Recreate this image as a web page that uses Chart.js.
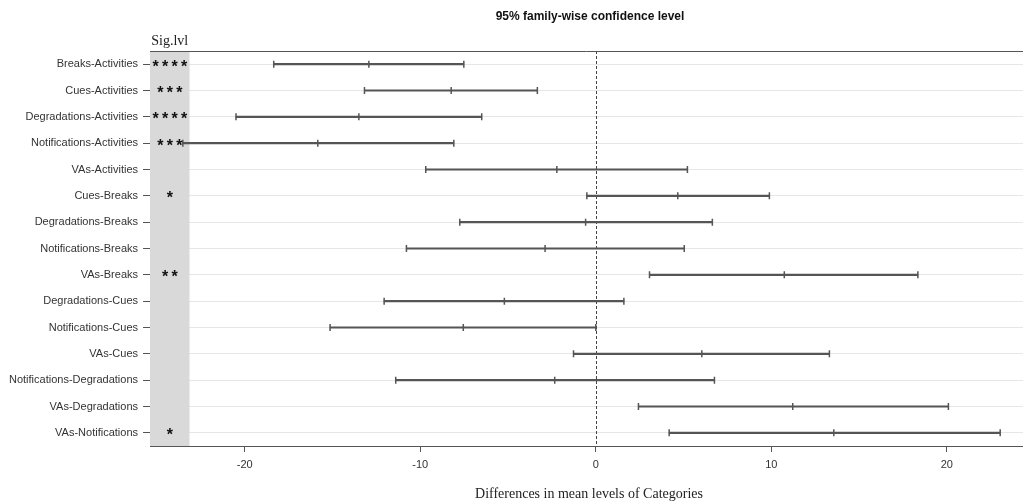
<!DOCTYPE html>
<html>
<head>
<meta charset="utf-8">
<script src="https://cdn.jsdelivr.net/npm/chart.js@4.4.1/dist/chart.umd.min.js"></script>
<style>
  html, body { margin: 0; padding: 0; background: #fff; }
  #wrap { width: 1023px; height: 504px; }
</style>
</head>
<body>
<div id="wrap"><canvas id="tukeyChart" width="1023" height="504"></canvas></div>
<script>
// pairwise comparisons, top to bottom
const comparisons = [
  'Breaks-Activities', 'Cues-Activities', 'Degradations-Activities', 'Notifications-Activities',
  'VAs-Activities', 'Cues-Breaks', 'Degradations-Breaks', 'Notifications-Breaks', 'VAs-Breaks',
  'Degradations-Cues', 'Notifications-Cues', 'VAs-Cues', 'Notifications-Degradations',
  'VAs-Degradations', 'VAs-Notifications'
];
const diffMean = [-12.93, -8.24, -13.5, -15.84, -2.22, 4.67, -0.58, -2.89, 10.74, -5.21, -7.55, 6.04, -2.34, 11.22, 13.56];
const lowerCI  = [-18.35, -13.18, -20.5, -23.53, -9.69, -0.51, -7.75, -10.79, 3.06, -12.06, -15.14, -1.27, -11.4, 2.43, 4.18];
const upperCI  = [-7.52, -3.33, -6.5, -8.09, 5.22, 9.89, 6.64, 5.04, 18.35, 1.6, 0.0, 13.31, 6.76, 20.09, 23.04];
const sigLevels = ['****', '***', '****', '***', '', '*', '', '', '**', '', '', '', '', '', '*'];
const xTicks = [-20, -10, 0, 10, 20];

const xMin = -25.4;
const xMax = 24.34;
const sigBandEnd = -23.15;
const barColor = '#555555';

const ranges = comparisons.map((c, i) => [lowerCI[i], upperCI[i]]);
const endPoints = [];
comparisons.forEach((c, i) => {
  endPoints.push({ x: lowerCI[i], y: c });
  endPoints.push({ x: diffMean[i], y: c });
  endPoints.push({ x: upperCI[i], y: c });
});

const decorPlugin = {
  id: 'decor',
  beforeDatasetsDraw(chart) {
    const { ctx, chartArea, scales } = chart;
    const bandRight = scales.x.getPixelForValue(sigBandEnd);
    ctx.save();
    ctx.fillStyle = '#d9d9d9';
    ctx.fillRect(chartArea.left, chartArea.top, bandRight - chartArea.left, chartArea.bottom - chartArea.top);

    // dashed zero line
    const x0 = Math.round(scales.x.getPixelForValue(0)) + 0.5;
    ctx.strokeStyle = '#444';
    ctx.lineWidth = 1;
    ctx.setLineDash([3, 2]);
    ctx.beginPath();
    ctx.moveTo(x0, chartArea.top);
    ctx.lineTo(x0, chartArea.bottom);
    ctx.stroke();
    ctx.restore();
  },
  afterDraw(chart) {
    const { ctx, chartArea, scales } = chart;
    const bandCenter = (chartArea.left + scales.x.getPixelForValue(sigBandEnd)) / 2;
    ctx.save();

    // top frame line
    ctx.strokeStyle = '#555';
    ctx.lineWidth = 1;
    ctx.beginPath();
    ctx.moveTo(chartArea.left, Math.round(chartArea.top) + 0.5);
    ctx.lineTo(chartArea.right, Math.round(chartArea.top) + 0.5);
    ctx.stroke();

    // significance stars
    ctx.fillStyle = '#111';
    ctx.font = 'bold 16px "Liberation Sans", Arial, sans-serif';
    ctx.textAlign = 'center';
    ctx.textBaseline = 'middle';
    const pitch = 9.5;
    sigLevels.forEach((s, i) => {
      if (!s) return;
      const y = scales.y.getPixelForValue(i) + 3;
      const start = bandCenter - (s.length - 1) * pitch / 2;
      for (let k = 0; k < s.length; k++) {
        ctx.fillText('*', start + k * pitch, y);
      }
    });

    // texts
    ctx.fillStyle = '#222';
    ctx.font = '14px "Liberation Serif", "Times New Roman", serif';
    ctx.fillText('Sig.lvl', bandCenter, 41);

    ctx.fillStyle = '#111';
    ctx.font = 'bold 12px "Liberation Sans", Arial, sans-serif';
    ctx.fillText('95% family-wise confidence level', 590, 17);

    ctx.fillStyle = '#222';
    ctx.font = '14px "Liberation Serif", "Times New Roman", serif';
    ctx.fillText('Differences in mean levels of Categories', 589, 494);
    ctx.restore();
  }
};

new Chart(document.getElementById('tukeyChart'), {
  type: 'bar',
  data: {
    labels: comparisons,
    datasets: [
      {
        type: 'bar',
        data: ranges,
        backgroundColor: barColor,
        borderWidth: 0,
        barThickness: 1.5,
        order: 2
      },
      {
        type: 'scatter',
        data: endPoints,
        pointStyle: 'line',
        rotation: 90,
        radius: 3.5,
        borderWidth: 1.5,
        borderColor: barColor,
        backgroundColor: barColor,
        order: 1
      }
    ]
  },
  options: {
    indexAxis: 'y',
    responsive: false,
    animation: false,
    events: [],
    layout: { autoPadding: false, padding: { top: 51, right: 0, bottom: 0, left: 0 } },
    plugins: {
      legend: { display: false },
      tooltip: { enabled: false }
    },
    scales: {
      x: {
        type: 'linear',
        min: xMin,
        max: xMax,
        afterFit: (scale) => { scale.height = 58; },
        afterBuildTicks: (scale) => { scale.ticks = xTicks.map(v => ({ value: v })); },
        ticks: {
          color: '#333',
          font: { family: '"Liberation Sans", Arial, sans-serif', size: 11 },
          padding: 6
        },
        grid: {
          drawOnChartArea: false,
          drawTicks: true,
          tickLength: 6,
          tickColor: '#555'
        },
        border: { display: true, color: '#555', width: 1 }
      },
      y: {
        type: 'category',
        offset: true,
        afterFit: (scale) => { scale.width = 150; },
        ticks: {
          color: '#333',
          font: { family: '"Liberation Sans", Arial, sans-serif', size: 11 },
          padding: 5
        },
        grid: {
          offset: false,
          color: '#e6e6e6',
          lineWidth: 1,
          tickColor: '#555',
          tickLength: 7
        },
        border: { display: true, color: '#555', width: 1 }
      }
    }
  },
  plugins: [decorPlugin]
});
</script>
</body>
</html>
